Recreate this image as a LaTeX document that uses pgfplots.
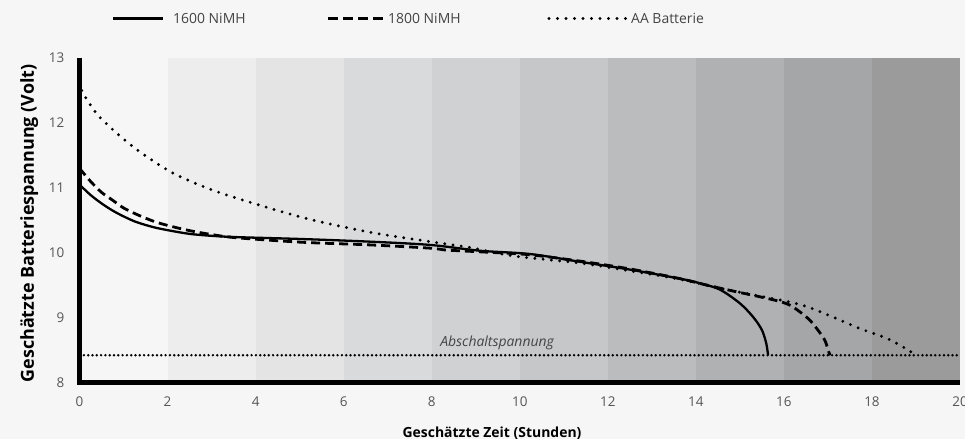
\documentclass[border=0pt]{standalone}
\usepackage{fontspec}
\setmainfont{Open Sans}
\usepackage{pgfplots}
\pgfplotsset{compat=1.18}
\definecolor{bg}{HTML}{F6F6F6}
\definecolor{b1}{HTML}{ECEDEC}
\definecolor{b2}{HTML}{E3E4E3}
\definecolor{b3}{HTML}{D9DADB}
\definecolor{b4}{HTML}{D0D1D2}
\definecolor{b5}{HTML}{C6C7C8}
\definecolor{b6}{HTML}{BBBCBD}
\definecolor{b7}{HTML}{B0B1B2}
\definecolor{b8}{HTML}{A5A6A7}
\definecolor{b9}{HTML}{9B9B9C}
\definecolor{tickgray}{HTML}{555555}
\definecolor{txtgray}{HTML}{444444}
\begin{document}
\begin{tikzpicture}
\useasboundingbox (0bp,0bp) rectangle (965bp,439bp);
\fill[bg] (0bp,0bp) rectangle (965bp,439bp);
\begin{axis}[
  at={(79.5bp,56.5bp)}, anchor=south west,
  scale only axis, width=880.5bp, height=324.5bp,
  xmin=0, xmax=20, ymin=8, ymax=13,
  xtick={0,2,...,20}, ytick={8,9,...,13},
  axis line style={draw=none},
  major tick length=0pt,
  clip=false,
  /pgf/number format/assume math mode=true,
  tick label style={font=\fontsize{13.5}{16}\selectfont, text=tickgray},
  xticklabel style={anchor=center, inner sep=0pt, yshift=-19.5bp},
  yticklabel style={anchor=east, inner sep=0pt, xshift=-15bp},
  xlabel={Geschätzte Zeit (Stunden)},
  ylabel={Geschätzte Batteriespannung (Volt)},
  xlabel style={at={(axis description cs:0.4685,-0.1695)}, anchor=base, inner sep=0pt, font=\fontsize{14}{16}\selectfont\bfseries},
  ylabel style={at={(axis description cs:-0.0517,0.49)}, anchor=base, inner sep=0pt, font=\fontsize{18}{20}\selectfont\bfseries},
]
\fill[b1] (axis cs:2,8) rectangle (axis cs:4,13);
\fill[b2] (axis cs:4,8) rectangle (axis cs:6,13);
\fill[b3] (axis cs:6,8) rectangle (axis cs:8,13);
\fill[b4] (axis cs:8,8) rectangle (axis cs:10,13);
\fill[b5] (axis cs:10,8) rectangle (axis cs:12,13);
\fill[b6] (axis cs:12,8) rectangle (axis cs:14,13);
\fill[b7] (axis cs:14,8) rectangle (axis cs:16,13);
\fill[b8] (axis cs:16,8) rectangle (axis cs:18,13);
\fill[b9] (axis cs:18,8) rectangle (axis cs:20,13);

% cutoff voltage
\addplot[black, line width=2.7bp, line cap=round, dash pattern=on 0bp off 4.3bp] coordinates {(0.1,8.42) (20,8.42)};

% AA Batterie
\addplot[black, line width=3.2bp, line cap=round, dash pattern=on 0bp off 8.3bp, smooth, tension=0.5] coordinates {
(0.05,12.5) (0.15,12.38) (0.47,12.08) (1.22,11.63) (2.06,11.25) (2.81,11.02) (3.57,10.84)
(5.08,10.54) (6.56,10.32) (7.96,10.17) (8.87,10.08) (9.85,9.95) (11.37,9.84) (12.5,9.72)
(13.64,9.59) (14.5,9.46) (15.3,9.35) (16.07,9.25) (16.52,9.17) (17.11,9.01) (17.73,8.83)
(18.34,8.68) (18.8,8.51) (18.95,8.44)};

% 1800 NiMH
\addplot[black, line width=2.8bp, dash pattern=on 9bp off 5bp, smooth, tension=0.5] coordinates {
(0,11.3) (0.25,11.1) (0.5,10.93) (0.75,10.81) (1,10.69) (1.3,10.59) (1.7,10.48) (2.06,10.41)
(2.5,10.34) (3,10.28) (3.57,10.23) (5.08,10.16) (6.6,10.12) (7.96,10.07) (8.35,10.04)
(9.2,10.01) (10.2,9.97) (11.37,9.87) (12.5,9.75) (13.64,9.6) (14.25,9.5) (14.84,9.41)
(15.46,9.32) (15.9,9.25) (16.14,9.19) (16.36,9.09) (16.59,8.96) (16.77,8.81) (16.93,8.65)
(17.02,8.47) (17.05,8.42)};

% 1600 NiMH
\addplot[black, line width=2.3bp, smooth, tension=0.5] coordinates {
(0,11.05) (0.25,10.89) (0.5,10.76) (0.75,10.65) (1,10.56) (1.3,10.47) (1.7,10.39) (2.06,10.34)
(2.5,10.29) (3,10.26) (3.57,10.24) (5.08,10.21) (6.6,10.17) (7.96,10.12) (9.1,10.03)
(10.23,9.98) (11.37,9.86) (12.5,9.74) (13.64,9.6) (14.09,9.53) (14.55,9.43) (15.0,9.22)
(15.3,9.01) (15.5,8.81) (15.6,8.6) (15.64,8.42)};

\draw[black, line width=5bp, line join=miter] (axis cs:0,13) -- (axis cs:0,8) -- (axis cs:20,8);
\node[anchor=base, inner sep=0pt, text=txtgray, font=\fontsize{14}{16}\selectfont\itshape] at (axis cs:9.485,8.56) {Abschaltspannung};
\end{axis}
% legend
\draw[black, line width=2.3bp] (113bp,420.5bp) -- (163bp,420.5bp);
\node[anchor=west, inner sep=0pt, text=txtgray, font=\fontsize{14}{16}\selectfont] at (173bp,420.5bp) {1600 NiMH};
\draw[black, line width=2.8bp, dash pattern=on 10bp off 5bp] (328bp,420.5bp) -- (383bp,420.5bp);
\node[anchor=west, inner sep=0pt, text=txtgray, font=\fontsize{14}{16}\selectfont] at (388bp,420.5bp) {1800 NiMH};
\draw[black, line width=3.2bp, line cap=round, dash pattern=on 0bp off 8.5bp] (549bp,420.5bp) -- (626bp,420.5bp);
\node[anchor=west, inner sep=0pt, text=txtgray, font=\fontsize{14}{16}\selectfont] at (631bp,420.5bp) {AA Batterie};
\end{tikzpicture}
\end{document}
